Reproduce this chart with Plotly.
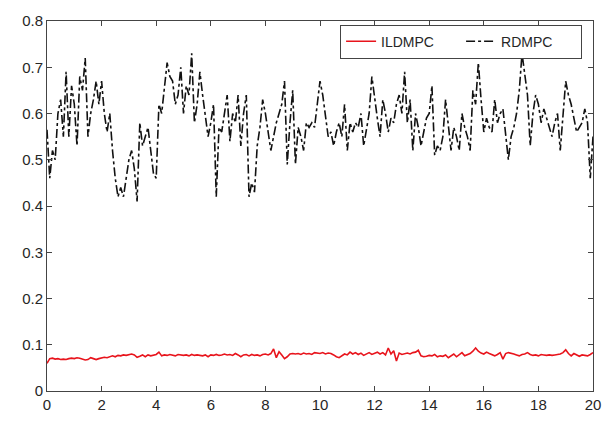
import plotly.graph_objects as go

t = [round(i * 0.1, 1) for i in range(201)]

rdmpc = [
    0.565, 0.46, 0.52, 0.50, 0.60, 0.63, 0.55, 0.69, 0.55, 0.66,
    0.62, 0.53, 0.68, 0.65, 0.72, 0.55, 0.60, 0.63, 0.67, 0.62,
    0.67, 0.60, 0.56, 0.60, 0.52, 0.46, 0.42, 0.44, 0.42, 0.46,
    0.50, 0.52, 0.48, 0.41, 0.58, 0.53, 0.55, 0.57, 0.52, 0.47,
    0.46, 0.62, 0.60, 0.66, 0.71, 0.68, 0.67, 0.62, 0.64, 0.70,
    0.60, 0.66, 0.64, 0.73, 0.58, 0.62, 0.69, 0.64, 0.60, 0.55,
    0.58, 0.62, 0.42, 0.57, 0.56, 0.60, 0.64, 0.54, 0.60, 0.58,
    0.64, 0.53, 0.60, 0.64, 0.42, 0.45, 0.43, 0.53, 0.57, 0.63,
    0.60, 0.56, 0.52, 0.55, 0.58, 0.60, 0.62, 0.67, 0.49, 0.58,
    0.65, 0.49, 0.57, 0.55, 0.52, 0.58, 0.57, 0.58, 0.57, 0.62,
    0.67, 0.64, 0.60, 0.55, 0.56, 0.53, 0.56, 0.58, 0.55, 0.62,
    0.52, 0.58, 0.56, 0.58, 0.57, 0.60, 0.53, 0.57, 0.60, 0.68,
    0.63, 0.59, 0.55, 0.63, 0.60, 0.56, 0.59, 0.58, 0.62, 0.64,
    0.60, 0.69, 0.58, 0.63, 0.52, 0.60, 0.57, 0.53, 0.56, 0.59,
    0.60, 0.66, 0.51, 0.53, 0.52, 0.55, 0.63, 0.58, 0.52, 0.57,
    0.55, 0.52, 0.60, 0.57, 0.55, 0.52, 0.65, 0.62, 0.71, 0.63,
    0.56, 0.59, 0.57, 0.56, 0.63, 0.58, 0.60, 0.61, 0.55, 0.50,
    0.55, 0.57, 0.60, 0.65, 0.73, 0.68, 0.64, 0.53, 0.60, 0.64,
    0.62, 0.58, 0.61, 0.59, 0.57, 0.55, 0.58, 0.60, 0.52, 0.60,
    0.67, 0.64, 0.62, 0.59, 0.56, 0.57, 0.58, 0.61, 0.58, 0.46,
    0.55,
]

ildmpc = [
    0.060, 0.070, 0.071, 0.069, 0.070, 0.068, 0.069, 0.068, 0.070, 0.071,
    0.070, 0.072, 0.071, 0.069, 0.067, 0.068, 0.072, 0.070, 0.068, 0.070,
    0.071, 0.073, 0.072, 0.074, 0.076, 0.074, 0.077, 0.076, 0.078, 0.077,
    0.079, 0.080, 0.078, 0.073, 0.075, 0.078, 0.074, 0.078, 0.076, 0.077,
    0.079, 0.084, 0.076, 0.078, 0.077, 0.079, 0.078, 0.076, 0.079, 0.078,
    0.077, 0.078, 0.076, 0.079, 0.077, 0.078, 0.077, 0.076, 0.078, 0.074,
    0.078, 0.077, 0.079, 0.077, 0.078, 0.080, 0.078, 0.079, 0.077, 0.081,
    0.078, 0.074, 0.078, 0.079, 0.076, 0.079, 0.077, 0.078, 0.076, 0.079,
    0.080, 0.078, 0.081, 0.091, 0.072, 0.085, 0.078, 0.070, 0.074, 0.080,
    0.081, 0.080, 0.081, 0.079, 0.082, 0.080, 0.081, 0.079, 0.083, 0.082,
    0.081, 0.083, 0.080, 0.082, 0.081, 0.078, 0.074, 0.072, 0.076, 0.080,
    0.078, 0.084, 0.080, 0.083, 0.079, 0.082, 0.077, 0.080, 0.083, 0.079,
    0.081, 0.084, 0.080, 0.083, 0.078, 0.093, 0.080, 0.087, 0.065, 0.082,
    0.079, 0.081, 0.082, 0.080, 0.083, 0.084, 0.088, 0.076, 0.074, 0.075,
    0.077, 0.076, 0.079, 0.074, 0.076, 0.075, 0.078, 0.072, 0.077, 0.080,
    0.074, 0.078, 0.083, 0.076, 0.079, 0.081, 0.086, 0.093, 0.086, 0.082,
    0.080, 0.084, 0.081, 0.078, 0.076, 0.079, 0.083, 0.069, 0.081, 0.083,
    0.082, 0.080, 0.078, 0.076, 0.079, 0.080, 0.083, 0.079, 0.077, 0.078,
    0.076, 0.079, 0.078, 0.077, 0.078, 0.077, 0.078, 0.079, 0.080, 0.083,
    0.089, 0.081, 0.076, 0.081, 0.078, 0.075, 0.078, 0.077, 0.076, 0.079,
    0.083,
]

x_ticks = [0, 2, 4, 6, 8, 10, 12, 14, 16, 18, 20]
y_ticks = [0, 0.1, 0.2, 0.3, 0.4, 0.5, 0.6, 0.7, 0.8]
y_tick_labels = ["0", "0.1", "0.2", "0.3", "0.4", "0.5", "0.6", "0.7", "0.8"]

fig = go.Figure()
fig.add_trace(go.Scatter(x=t, y=ildmpc, mode="lines", name="ILDMPC",
                         line=dict(color="#e8141c", width=1.6)))
fig.add_trace(go.Scatter(x=t, y=rdmpc, mode="lines", name="RDMPC",
                         line=dict(color="#111111", width=1.6, dash="dashdot")))

axis_common = dict(
    showgrid=False, zeroline=False, showline=True, linecolor="#444444",
    linewidth=1, mirror="allticks", ticks="inside", ticklen=5,
    tickcolor="#444444", tickfont=dict(family="Arial, Liberation Sans", size=15, color="#262626"),
)

fig.update_layout(
    width=613, height=425,
    margin=dict(l=47, r=20, t=12, b=28),
    paper_bgcolor="white", plot_bgcolor="white",
    xaxis=dict(range=[0, 20], tickvals=x_ticks, **axis_common),
    yaxis=dict(range=[0, 0.8], tickvals=y_ticks, ticktext=y_tick_labels, **axis_common),
    legend=dict(orientation="h", x=0.98, y=0.99, xanchor="right", yanchor="top",
                bgcolor="white", bordercolor="#444444", borderwidth=1,
                font=dict(family="Arial, Liberation Sans", size=14, color="#262626"),
                entrywidth=75, tracegroupgap=0),
    showlegend=True,
)

fig.write_html("out.html")
